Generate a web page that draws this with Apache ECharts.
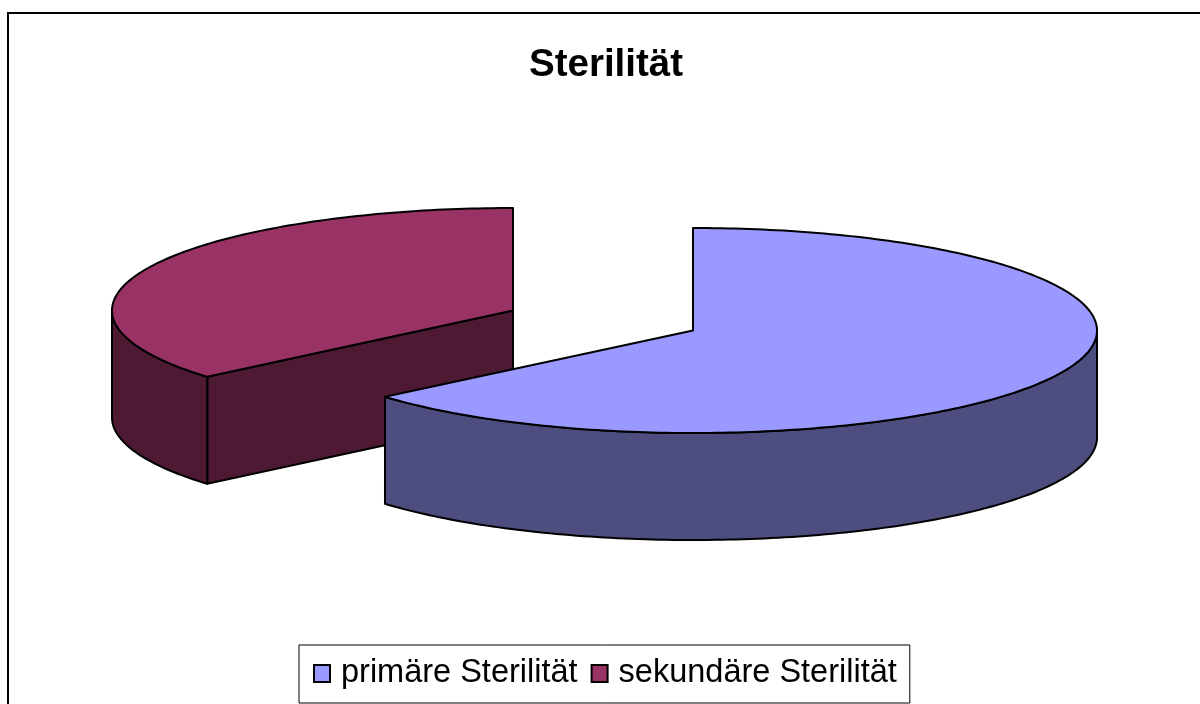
<!DOCTYPE html>
<html>
<head>
<meta charset="utf-8">
<style>html,body{margin:0;padding:0;background:#fff}#c{width:1200px;height:704px}</style>
<script src="https://cdn.jsdelivr.net/npm/echarts@6/dist/echarts.min.js"></script>
</head>
<body>
<div id="c"></div>
<script>
const chartTitle = 'Sterilität';
const categories = ['primäre Sterilität', 'sekundäre Sterilität'];
const values = [63.8, 36.2];
const topColors = ['#9999FF', '#993366'];
const sideColors = ['#4D4D80', '#4D1933'];

const total = values.reduce((a, b) => a + b, 0);
const layouts = [
  { cx: 693, cy: 330.5, rx: 404, ry: 102.5, depth: 107 },
  { cx: 513, cy: 310.5, rx: 401, ry: 102.5, depth: 107 }
];
const line = { stroke: '#000', lineWidth: 2, lineJoin: 'round' };

function arcPoints(l, a0, a1, dy) {
  const pts = [];
  const n = Math.max(2, Math.ceil(Math.abs(a1 - a0) / (Math.PI / 180)));
  for (let i = 0; i <= n; i++) {
    const a = a0 + (a1 - a0) * i / n;
    pts.push([l.cx + l.rx * Math.sin(a), l.cy - l.ry * Math.cos(a) + dy]);
  }
  return pts;
}

function sliceRenderer(idx) {
  return function () {
    const before = values.slice(0, idx).reduce((a, b) => a + b, 0);
    const a0 = before / total * 2 * Math.PI;
    const a1 = (before + values[idx]) / total * 2 * Math.PI;
    const l = layouts[idx];
    const children = [];
    const side = { fill: sideColors[idx], ...line };
    const wall = (a) => {
      const p = [l.cx + l.rx * Math.sin(a), l.cy - l.ry * Math.cos(a)];
      children.push({ type: 'polygon', shape: { points: [[l.cx, l.cy], p, [p[0], p[1] + l.depth], [l.cx, l.cy + l.depth]] }, style: side });
    };
    if (Math.sin(a0) < -1e-6) wall(a0);
    if (Math.sin(a1) > 1e-6) wall(a1);
    const w0 = Math.max(a0, Math.PI / 2), w1 = Math.min(a1, 3 * Math.PI / 2);
    if (w1 > w0) {
      const top = arcPoints(l, w0, w1, 0);
      const bottom = arcPoints(l, w1, w0, l.depth);
      children.push({ type: 'polygon', shape: { points: top.concat(bottom) }, style: side });
    }
    children.push({
      type: 'polygon',
      shape: { points: [[l.cx, l.cy]].concat(arcPoints(l, a0, a1, 0)) },
      style: { fill: topColors[idx], ...line }
    });
    return { type: 'group', children };
  };
}

const chart = echarts.init(document.getElementById('c'), null, { renderer: 'canvas' });
chart.setOption({
  animation: false,
  backgroundColor: '#fff',
  title: {
    text: chartTitle, left: 524, top: 41,
    textStyle: { fontFamily: 'Liberation Sans', fontWeight: 'bold', fontSize: 38.5, color: '#000' }
  },
  legend: {
    data: categories, left: 299, top: 645, orient: 'horizontal',
    padding: [12, 13, 13, 14], itemGap: 13, itemWidth: 16, itemHeight: 17, icon: 'rect',
    backgroundColor: '#fff', borderColor: '#000', borderWidth: 1,
    itemStyle: { borderColor: '#000', borderWidth: 2 },
    textStyle: { fontFamily: 'Liberation Sans', fontSize: 32.5, color: '#000', padding: [0, 0, 0, 6] }
  },
  graphic: [{
    type: 'polyline', silent: true,
    shape: { points: [[8, 704], [8, 13], [1200, 13]] },
    style: { stroke: '#000', lineWidth: 2, fill: null }
  }],
  series: [1, 0].map(i => ({
    type: 'custom', name: categories[i], coordinateSystem: 'none',
    itemStyle: { color: topColors[i] },
    data: [values[i]], renderItem: sliceRenderer(i)
  }))
});
</script>
</body>
</html>
